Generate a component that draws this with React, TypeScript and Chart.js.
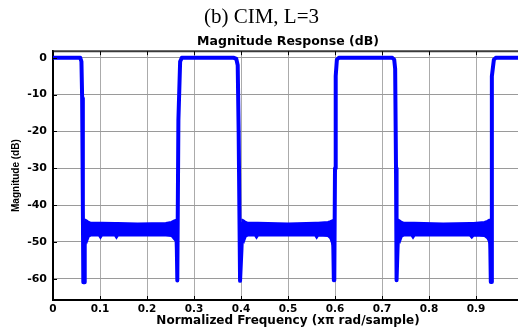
import React, { useEffect, useRef } from "react";
import { Chart, registerables } from "chart.js";

Chart.register(...registerables);

// ---- axis ticks ----
const xTickValues = [0, 0.1, 0.2, 0.3, 0.4, 0.5, 0.6, 0.7, 0.8, 0.9, 1];
const yTickValues = [0, -10, -20, -30, -40, -50, -60];
const xMin = 0;
const xMax = 1;
const yMin = -65.8;
const yMax = 1.8;

// ---- main response trace (passbands, transition edges, notches); null = break ----
const traceFreq = [
  0, 0.058, 0.0605, 0.062, 0.0635, 0.0645, 0.066, 0.0675, 0.069, 0.07,
  0.262, 0.2635, 0.2645, 0.2655, 0.2668, 0.2705, 0.274, 0.385, 0.39, 0.393, 0.395, 0.398, 0.3995, 0.401, 0.403, 0.404,
  0.595, 0.5965, 0.5975, 0.5985, 0.6, 0.6015, 0.604, 0.608, 0.722, 0.726, 0.728, 0.7298, 0.7305, 0.7315, 0.733, 0.735, 0.736,
  0.929, 0.9305, 0.9315, 0.9325, 0.9335, 0.934, 0.938, 0.942, 1,
];
const traceMag = [
  0, 0, -1, -11, -40, -61, -61, -50, -45, null,
  -45, -52, -60.5, -60.5, -17, -1, 0, 0, -0.3, -2, -20, -60.6, -60.6, -52, -45, null,
  -45, -52, -60.4, -60.4, -30, -5, -0.5, 0, 0, -0.5, -3, -30, -45, -60.4, -52, -45, null,
  -45, -52, -60.9, -60.9, -35, -5, -0.5, 0, 0,
];

// ---- stopband ripple envelopes ----
const stop1Freq = [0.067, 0.069, 0.072, 0.076, 0.08, 0.098, 0.101, 0.104, 0.132, 0.135, 0.138, 0.18, 0.24, 0.252, 0.258, 0.263];
const stop1Upper = [-44.0, -44.0, -44.2, -44.6, -44.8, -44.8, -44.8, -44.8, -44.9, -44.9, -44.9, -45.0, -44.9, -44.6, -44.2, -44.0];
const stop1Lower = [-48.0, -49.0, -50.0, -48.6, -48.3, -48.3, -48.9, -48.3, -48.3, -48.9, -48.3, -48.3, -48.3, -48.4, -49.3, -50.0];

const stop2Freq = [0.401, 0.403, 0.406, 0.41, 0.414, 0.43, 0.433, 0.436, 0.5, 0.558, 0.561, 0.564, 0.585, 0.59, 0.594, 0.596];
const stop2Upper = [-44.0, -44.0, -44.2, -44.6, -44.8, -44.8, -44.8, -44.8, -45.0, -44.8, -44.8, -44.8, -44.6, -44.4, -44.2, -44.0];
const stop2Lower = [-48.0, -49.5, -50.0, -48.6, -48.3, -48.3, -48.9, -48.3, -48.3, -48.3, -48.9, -48.3, -48.4, -49.0, -50.5, -51.0];

const stop3Freq = [0.733, 0.735, 0.738, 0.742, 0.746, 0.763, 0.766, 0.769, 0.83, 0.887, 0.891, 0.895, 0.918, 0.924, 0.928, 0.93];
const stop3Upper = [-44.0, -44.0, -44.2, -44.6, -44.8, -44.8, -44.8, -44.8, -45.0, -44.9, -44.9, -44.9, -44.6, -44.3, -44.0, -44.0];
const stop3Lower = [-48.0, -49.5, -50.0, -48.6, -48.3, -48.3, -48.9, -48.3, -48.3, -48.3, -48.9, -48.3, -48.4, -49.0, -50.0, -50.5];

const BLUE = "#0000ff";
const SANS = '"DejaVu Sans", Verdana, sans-serif';

function pts(xs: number[], ys: (number | null)[]) {
  return xs.map((x, i) => ({ x, y: ys[i] }));
}

function bandPair(xs: number[], upper: number[], lower: number[]) {
  return [
    {
      data: pts(xs, upper),
      borderColor: BLUE,
      backgroundColor: BLUE,
      borderWidth: 2,
      pointRadius: 0,
      fill: false,
      tension: 0,
    },
    {
      data: pts(xs, lower),
      borderColor: BLUE,
      backgroundColor: BLUE,
      borderWidth: 2,
      pointRadius: 0,
      fill: "-1",
      tension: 0,
    },
  ];
}

const framePlugin = {
  id: "frame",
  afterDraw(chart: any) {
    const { ctx, chartArea: a, scales } = chart;
    const x = scales.x;
    const y = scales.y;
    ctx.save();
    ctx.strokeStyle = "#3a3a3a";
    ctx.lineWidth = 2;
    ctx.beginPath();
    ctx.moveTo(a.left, a.top);
    ctx.lineTo(a.right, a.top);
    ctx.stroke();
    ctx.strokeStyle = "#000";
    ctx.lineWidth = 1;
    ctx.beginPath();
    xTickValues.forEach((v) => {
      const px = Math.round(x.getPixelForValue(v)) + 0.5;
      ctx.moveTo(px, a.top);
      ctx.lineTo(px, a.top + 4);
      ctx.moveTo(px, a.bottom);
      ctx.lineTo(px, a.bottom - 4);
    });
    yTickValues.forEach((v) => {
      const py = Math.round(y.getPixelForValue(v)) + 0.5;
      ctx.moveTo(a.left, py);
      ctx.lineTo(a.left + 4, py);
    });
    ctx.stroke();
    ctx.restore();
  },
};

export default function App() {
  const canvasRef = useRef<HTMLCanvasElement | null>(null);

  useEffect(() => {
    if (!canvasRef.current) return;
    const chart = new Chart(canvasRef.current, {
      type: "line",
      data: {
        datasets: [
          ...bandPair(stop1Freq, stop1Upper, stop1Lower),
          ...bandPair(stop2Freq, stop2Upper, stop2Lower),
          ...bandPair(stop3Freq, stop3Upper, stop3Lower),
          {
            data: pts(traceFreq, traceMag),
            borderColor: BLUE,
            backgroundColor: BLUE,
            borderWidth: 4,
            pointRadius: 0,
            fill: false,
            spanGaps: false,
            tension: 0,
            borderJoinStyle: "round",
            borderCapStyle: "round",
          },
        ] as any,
      },
      options: {
        responsive: false,
        animation: false,
        devicePixelRatio: 1,
        events: [],
        layout: { padding: { left: 0, right: 7, top: 0, bottom: 0 } },
        plugins: {
          legend: { display: false },
          tooltip: { enabled: false },
          title: {
            display: true,
            text: "(b) CIM, L=3",
            color: "#000",
            font: { family: '"Liberation Serif", "Times New Roman", serif', size: 21, weight: "normal" },
            padding: { top: 5, bottom: 0 },
          },
          subtitle: {
            display: true,
            fullSize: false,
            text: "Magnitude Response (dB)",
            color: "#000",
            font: { family: SANS, size: 12.5, weight: "bold" },
            padding: { top: 4, bottom: 2 },
          },
        },
        scales: {
          x: {
            type: "linear",
            min: xMin,
            max: xMax,
            afterBuildTicks: (s: any) => {
              s.ticks = xTickValues.map((v) => ({ value: v }));
            },
            afterFit: (s: any) => {
              s.height = 28;
            },
            ticks: {
              autoSkip: false,
              maxRotation: 0,
              padding: 3,
              color: "#000",
              font: { family: SANS, size: 10.5, weight: "bold" },
              callback: (v: any) => (Number(v) === 0 ? "0" : Number(v).toFixed(1).replace(/\.0$/, "")),
            },
            grid: { color: "#ababab", lineWidth: 1, drawTicks: false },
            border: { color: "#000", width: 2 },
            title: {
              display: true,
              text: "Normalized Frequency (x\u03c0 rad/sample)",
              color: "#000",
              font: { family: SANS, size: 12, weight: "bold" },
              padding: { top: 0, bottom: 0 },
            },
          },
          y: {
            type: "linear",
            min: yMin,
            max: yMax,
            afterBuildTicks: (s: any) => {
              s.ticks = yTickValues.map((v) => ({ value: v }));
            },
            afterFit: (s: any) => {
              s.width = 53;
            },
            ticks: {
              padding: 6,
              color: "#000",
              font: { family: SANS, size: 11, weight: "bold" },
              callback: (v: any) => String(v),
            },
            grid: { color: "#9a9a9a", lineWidth: 1, drawTicks: false },
            border: { color: "#000", width: 2 },
            title: {
              display: true,
              text: "Magnitude (dB)",
              color: "#000",
              font: { family: '"Liberation Sans", Arial, sans-serif', size: 10, weight: "bold" },
              padding: { top: 10, bottom: 0 },
            },
          },
        },
      } as any,
      plugins: [framePlugin],
    });
    return () => chart.destroy();
  }, []);

  return (
    <div style={{ position: "fixed", left: 0, top: 0, width: 518, height: 328, overflow: "hidden", background: "#fff" }}>
      <canvas ref={canvasRef} width={530} height={328} style={{ display: "block", width: 530, height: 328 }} />
    </div>
  );
}
